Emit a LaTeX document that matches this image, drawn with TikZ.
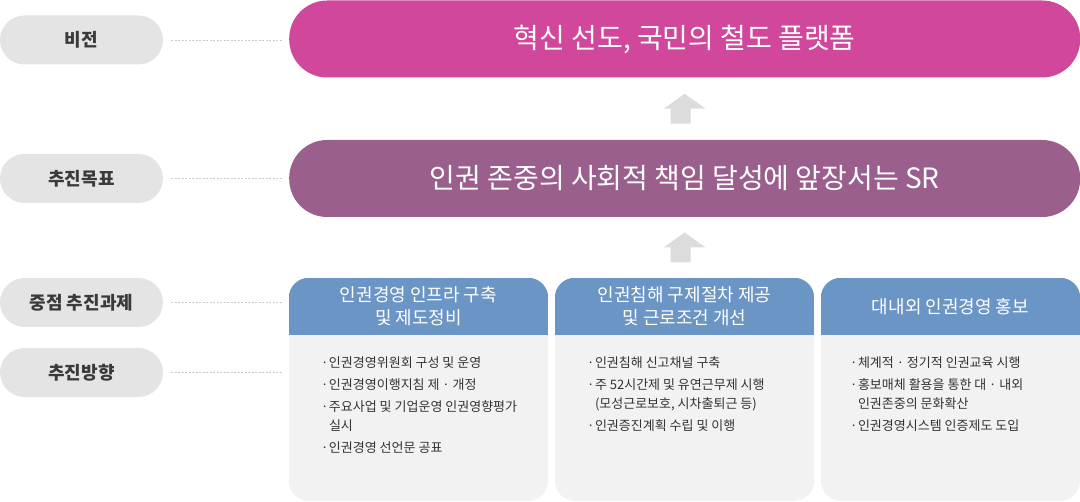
\documentclass[tikz,border=0pt]{standalone}
\usepackage{fontspec}
\setmainfont{Noto Sans CJK KR}
\usepackage{tikz}
\usetikzlibrary{positioning, calc, shapes.misc}

\definecolor{visionmag}{HTML}{D1479B}
\definecolor{goalpurple}{HTML}{9A5F8D}
\definecolor{taskblue}{HTML}{6B95C4}
\definecolor{pillgray}{HTML}{E4E4E4}
\definecolor{bodygray}{HTML}{F2F2F2}
\definecolor{arrowgray}{HTML}{DCDCDC}
\definecolor{guidegray}{HTML}{CCCCCC}
\definecolor{labeltext}{HTML}{333333}
\definecolor{pilltext}{HTML}{3A3A3A}

\newcommand{\itm}{\makebox[8pt][l]{·}}
\newcommand{\cont}{\hspace*{8pt}}

\begin{document}
\begin{tikzpicture}[
    x=1pt, y=-1pt,
    pill/.style={rounded rectangle, fill=pillgray, minimum width=163pt, minimum height=49pt,
        inner sep=0pt, font=\fontsize{18}{21}\selectfont\bfseries, text=pilltext},
    banner/.style={rectangle, rounded corners=38pt, minimum width=791pt, minimum height=77pt,
        text=white, font=\fontsize{28}{32}\selectfont},
    colbox/.style={rectangle, rounded corners=20pt, fill=bodygray, minimum width=259pt,
        minimum height=223pt, inner sep=0pt},
    headtext/.style={text=white, align=center, font=\fontsize{18}{23}\selectfont},
    bodytext/.style={anchor=north west, align=left, inner sep=0pt, text=labeltext,
        font=\fontsize{13}{19}\selectfont},
    guide/.style={draw=guidegray, line width=0.8pt, dash pattern=on 2pt off 1.5pt,
        shorten <=8pt, shorten >=6pt},
    uparrow/.style={fill=arrowgray}
]
    \useasboundingbox (0,0) rectangle (1080,502);

    % Left labels
    \node[pill] (vlab) at (81.5,40) {비전};
    \node[pill] (glab) at (81.5,178.5) {추진목표};
    \node[pill] (tlab) at (81.5,302.5) {중점 추진과제};
    \node[pill] (dlab) at (81.5,372.5) {추진방향};

    % Banners
    \node[banner, fill=visionmag, anchor=west] (vision) at (289,39) {혁신 선도, 국민의 철도 플랫폼};
    \node[banner, fill=goalpurple, anchor=west] (goal) at (289,178.5) {인권 존중의 사회적 책임 달성에 앞장서는 SR};

    % Columns
    \node[colbox] (col1) at (418.5,389.5) {};
    \node[colbox] (col2) at (684.5,389.5) {};
    \node[colbox] (col3) at (950.5,389.5) {};
    \foreach \c in {col1,col2,col3} {
        \begin{scope}
            \clip[rounded corners=20pt] (\c.north west) rectangle (\c.south east);
            \fill[taskblue] (\c.north west) rectangle ($(\c.north east)+(0,57)$);
        \end{scope}
    }
    \node[headtext] (h1) at ($(col1.north)+(0,28.5)$) {인권경영 인프라 구축\\및 제도정비};
    \node[headtext] (h2) at ($(col2.north)+(0,28.5)$) {인권침해 구제절차 제공\\및 근로조건 개선};
    \node[headtext] (h3) at ($(col3.north)+(0,28.5)$) {대내외 인권경영 홍보};

    \node[bodytext] (b1) at ($(col1.north west)+(32,79)$) {%
        \itm 인권경영위원회 구성 및 운영\\[3pt]
        \itm 인권경영이행지침 제 · 개정\\[3pt]
        \itm 주요사업 및 기업운영 인권영향평가\\
        \cont 실시\\[3pt]
        \itm 인권경영 선언문 공표};
    \node[bodytext] (b2) at ($(col2.north west)+(32,79)$) {%
        \itm 인권침해 신고채널 구축\\[3pt]
        \itm 주 52시간제 및 유연근무제 시행\\
        \cont (모성근로보호, 시차출퇴근 등)\\[3pt]
        \itm 인권증진계획 수립 및 이행};
    \node[bodytext] (b3) at ($(col3.north west)+(29,79)$) {%
        \itm 체계적 · 정기적 인권교육 시행\\[3pt]
        \itm 홍보매체 활용을 통한 대 · 내외\\
        \cont 인권존중의 문화확산\\[3pt]
        \itm 인권경영시스템 인증제도 도입};

    % Dotted guides
    \draw[guide] (vlab.east) -- (vlab.east -| vision.west);
    \draw[guide] (glab.east) -- (glab.east -| goal.west);
    \draw[guide] (tlab.east) -- (tlab.east -| col1.west);
    \draw[guide] (dlab.east) -- (dlab.east -| col1.west);

    % Up arrows
    \coordinate (m1) at ($(vision.south)!0.5!(goal.north)$);
    \coordinate (m2) at ($(goal.south)!0.5!(col2.north)$);
    \foreach \m in {m1,m2} {
        \fill[uparrow] ($(\m)+(0,-15)$) -- ($(\m)+(21,0)$) -- ($(\m)+(6,0)$) -- ($(\m)+(6,15)$)
            -- ($(\m)+(-14,15)$) -- ($(\m)+(-14,0)$) -- ($(\m)+(-21,0)$) -- cycle;
    }
\end{tikzpicture}
\end{document}
